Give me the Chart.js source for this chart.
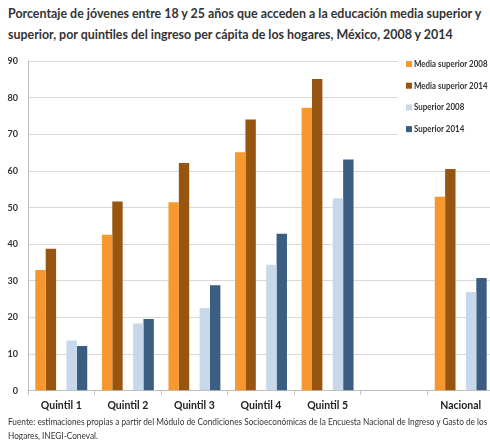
<!DOCTYPE html>
<html>
<head>
<meta charset="utf-8">
<script src="https://cdn.jsdelivr.net/npm/chart.js@4.4.1/dist/chart.umd.min.js"></script>
<style>
  html, body { margin: 0; padding: 0; background: #fff; overflow: hidden; width: 490px; height: 440px; }
  #title { position: absolute; left: 8px; top: 3px; font-family: Lato, sans-serif; font-weight: bold; font-size: 13px; line-height: 21px; color: #333; white-space: nowrap; transform: scaleX(0.955); transform-origin: left top; }
  #wrap { position: absolute; left: 0; top: 46px; width: 496px; height: 372px; }
  #note { position: absolute; left: 8px; top: 415px; font-family: Lato, sans-serif; font-size: 9.5px; line-height: 14px; color: #333; white-space: nowrap; transform: scaleX(0.87); transform-origin: left top; }
</style>
</head>
<body>
<div id="title">Porcentaje de jóvenes entre 18 y 25 años que acceden a la educación media superior y<br>superior, por quintiles del ingreso per cápita de los hogares, México, 2008 y 2014</div>
<div id="wrap"><canvas id="chart"></canvas></div>
<div id="note">Fuente: estimaciones propias a partir del Módulo de Condiciones Socioeconómicas de la Encuesta Nacional de Ingreso y Gasto de los<br>Hogares, INEGI-Coneval.</div>
<script>
  var categories = ["Quintil 1", "Quintil 2", "Quintil 3", "Quintil 4", "Quintil 5", "", "Nacional"];
  var mediaSup2008 = [33.0, 42.6, 51.5, 65.2, 77.3, null, 53.0];
  var mediaSup2014 = [38.8, 51.7, 62.2, 74.1, 85.2, null, 60.6];
  var superior2008 = [13.7, 18.4, 22.6, 34.4, 52.6, null, 27.0];
  var superior2014 = [12.2, 19.6, 28.8, 42.9, 63.2, null, 30.8];
  var yTicks = [0, 10, 20, 30, 40, 50, 60, 70, 80, 90];

  var colors = ["#F7972F", "#97550F", "#C7D8EB", "#3C5D82"];
  var seriesNames = ["Media superior 2008", "Media superior 2014", "Superior 2008", "Superior 2014"];

  // legend drawn inside the plot, top right, on a white box
  var boxLegend = {
    id: "boxLegend",
    afterDraw: function (chart) {
      var c = chart.ctx;
      c.save();
      c.fillStyle = "#fff";
      c.fillRect(398, 2, 98, 90);
      c.font = "bold 9px Lato, sans-serif";
      c.textBaseline = "middle";
      seriesNames.forEach(function (name, i) {
        var y = 18 + i * 21.7;
        c.fillStyle = colors[i];
        c.fillRect(406, y - 3, 6, 6);
        c.fillStyle = "#333";
        c.fillText(name, 414, y, c.measureText(name).width * 0.88);
      });
      c.restore();
    }
  };

  var ctx = document.getElementById("chart").getContext("2d");
  new Chart(ctx, {
    type: "bar",
    data: {
      labels: categories,
      datasets: [
        { label: seriesNames[0], data: mediaSup2008, backgroundColor: colors[0] },
        { label: seriesNames[1], data: mediaSup2014, backgroundColor: colors[1] },
        { label: "", data: categories.map(function () { return null; }), backgroundColor: "transparent" },
        { label: seriesNames[2], data: superior2008, backgroundColor: colors[2] },
        { label: seriesNames[3], data: superior2014, backgroundColor: colors[3] }
      ]
    },
    options: {
      responsive: true,
      maintainAspectRatio: false,
      animation: false,
      layout: { padding: { left: 0, right: 2, top: 10, bottom: 0 } },
      datasets: { bar: { categoryPercentage: 0.78, barPercentage: 1.0 } },
      plugins: {
        legend: { display: false },
        tooltip: { enabled: false }
      },
      scales: {
        y: {
          min: 0,
          max: 90,
          afterFit: function (scale) { scale.width = 28; },
          afterBuildTicks: function (scale) { scale.ticks = yTicks.map(function (v) { return { value: v }; }); },
          grid: { color: "#D9D9D9", drawTicks: false },
          border: { color: "#BFBFBF" },
          ticks: { padding: 10, color: "#333", font: { family: "Lato", size: 9, weight: "bold" } }
        },
        x: {
          afterFit: function (scale) { scale.height = 27.3; },
          grid: { offset: true, drawOnChartArea: false, drawTicks: true, tickLength: 4, color: "#BFBFBF" },
          border: { color: "#BFBFBF" },
          ticks: { padding: 5, color: "#222", font: { family: "Lato", size: 10.5, weight: "bold" } }
        }
      }
    },
    plugins: [boxLegend]
  });
</script>
</body>
</html>
